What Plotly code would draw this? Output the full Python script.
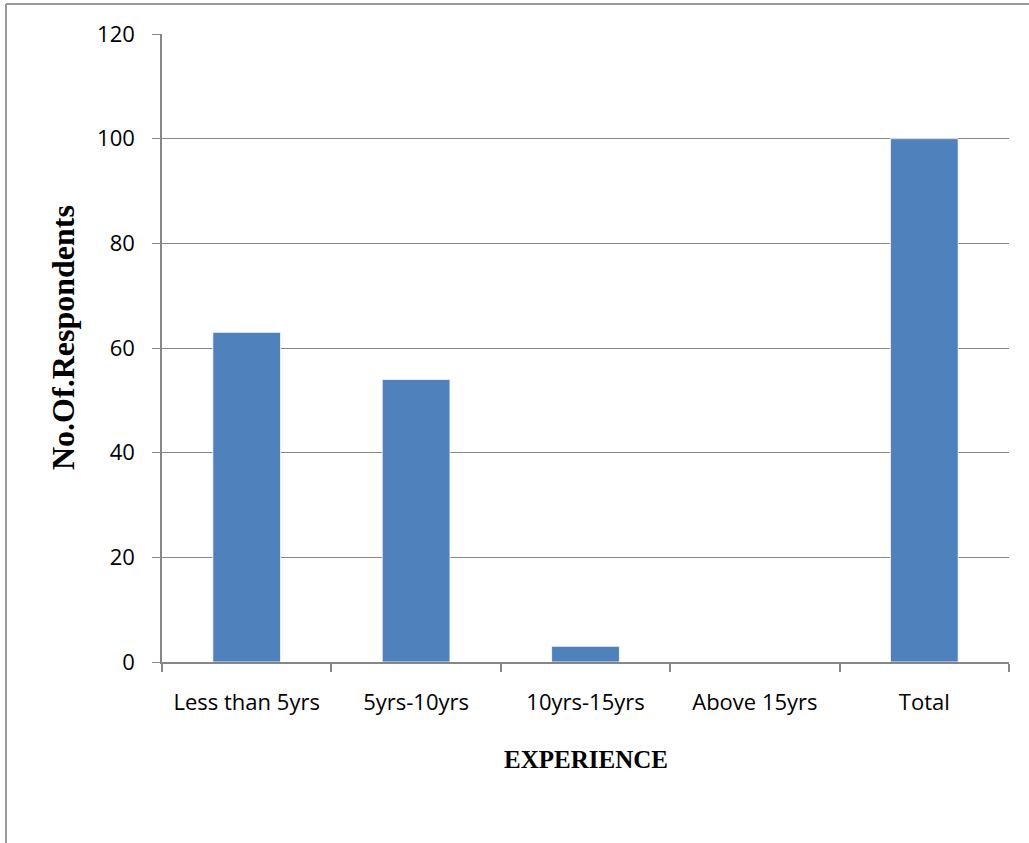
import plotly.graph_objects as go

# Respondents grouped by years of experience
categories = ["Less than 5yrs", "5yrs-10yrs", "10yrs-15yrs", "Above 15yrs", "Total"]
respondents = [63, 54, 3, 0, 100]
y_ticks = [0, 20, 40, 60, 80, 100, 120]

W, H = 1029, 843
L, R, T, B = 162, 20, 34, 181
pw, ph = W - L - R, H - T - B


def px_x(px):
    """Pixel column -> paper x coordinate."""
    return (px - L) / pw


def px_y(py):
    """Pixel row -> paper y coordinate."""
    return (H - B - py) / ph


fig = go.Figure(
    go.Bar(
        x=categories,
        y=respondents,
        marker=dict(color="#4F81BD", line=dict(color="#FFFFFF", width=0.8)),
        width=0.4,
    )
)

axis_grey = "#868686"
label_font = "'Open Sans', sans-serif"
title_font = "'Liberation Serif', 'Times New Roman', serif"

fig.update_layout(
    width=W,
    height=H,
    margin=dict(l=L, r=R, t=T, b=B),
    paper_bgcolor="white",
    plot_bgcolor="white",
    showlegend=False,
    font=dict(family=label_font, size=22, color="black"),
    xaxis=dict(
        type="category",
        tickson="boundaries",
        ticks="outside",
        ticklen=8,
        tickwidth=2,
        tickcolor=axis_grey,
        showline=True,
        linecolor=axis_grey,
        linewidth=2,
        showgrid=False,
        tickfont=dict(family=label_font, size=22),
        ticklabelstandoff=20,
    ),
    yaxis=dict(
        range=[0, 120],
        tickvals=y_ticks,
        ticks="outside",
        ticklen=8,
        tickwidth=1,
        tickcolor=axis_grey,
        showline=True,
        linecolor=axis_grey,
        linewidth=1.5,
        showgrid=True,
        gridcolor=axis_grey,
        gridwidth=1,
        zeroline=False,
        tickfont=dict(family=label_font, size=22),
        ticklabelstandoff=13,
    ),
    bargap=0.6,
)

# Axis titles
fig.add_annotation(
    text="<b>EXPERIENCE</b>", xref="paper", yref="paper",
    x=px_x(586), y=px_y(759), showarrow=False,
    xanchor="center", yanchor="middle",
    font=dict(family=title_font, size=25, color="black"),
)
fig.add_annotation(
    text="<b>No.Of.Respondents</b>", xref="paper", yref="paper",
    x=px_x(63), y=px_y(338), showarrow=False, textangle=-90,
    xanchor="center", yanchor="middle",
    font=dict(family=title_font, size=32, color="black"),
)

# Outer chart frame (left and top edges)
fig.add_shape(type="line", xref="paper", yref="paper",
              x0=px_x(6), x1=px_x(6), y0=px_y(4), y1=px_y(H),
              line=dict(color="#9A9A9A", width=2))
fig.add_shape(type="line", xref="paper", yref="paper",
              x0=px_x(6), x1=px_x(W), y0=px_y(4), y1=px_y(4),
              line=dict(color="#9A9A9A", width=2))

fig.write_html("out.html")
